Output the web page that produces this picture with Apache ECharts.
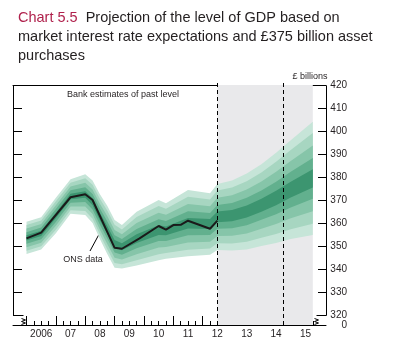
<!DOCTYPE html>
<html>
<head>
<meta charset="utf-8">
<script src="https://cdn.jsdelivr.net/npm/echarts@6/dist/echarts.min.js"></script>
<style>
html, body { margin: 0; padding: 0; background: #fff; }
#chart { width: 419px; height: 350px; }
</style>
</head>
<body>
<div id="chart"></div>
<script>
// ONS GDP level (£ billions), vertices of the black line
var onsX = [2006.0, 2006.5, 2007.5, 2008.0, 2008.25, 2009.0, 2009.25, 2009.85, 2010.5, 2010.75, 2011.0, 2011.25, 2011.5, 2012.25, 2012.5];
var onsY = [353.3, 355.8, 371.2, 372.5, 370.0, 349.2, 348.8, 353.3, 358.7, 357.1, 359.1, 359.2, 361.0, 357.5, 361.0];

// fan chart: outer edges of the shaded area (backcast + projection)
var fanX    = [2006.0, 2006.5, 2007.0, 2007.5, 2008.0, 2008.25, 2008.5, 2008.75, 2009.0, 2009.25, 2009.75, 2010.5, 2010.75, 2011.5, 2012.25, 2012.5, 2013.0, 2013.5, 2014.0, 2014.5, 2015.0, 2015.75];
var fanHigh = [360.5, 362.5, 371.0, 379.0, 381.2, 378.5, 372.5, 367.5, 361.3, 359.1, 364.9, 370.0, 368.6, 374.3, 372.9, 377.0, 378.5, 381.5, 385.5, 390.5, 396.0, 404.0];
var fanLow  = [346.5, 348.5, 355.5, 364.0, 363.5, 360.0, 353.0, 346.5, 340.5, 340.2, 341.5, 343.8, 344.5, 345.5, 346.2, 348.3, 348.0, 348.5, 350.0, 351.3, 353.0, 354.8];

// band edges as share of the outer range, and colours from outer to centre
var bandEdges = [0, 0.1, 0.21, 0.32, 0.42, 0.58, 0.68, 0.79, 0.9, 1];
var levelColors = ['#c6e5d8', '#a7d6c1', '#86c5a9', '#62b08e', '#3c9570'];

var yTicks = [320, 330, 340, 350, 360, 370, 380, 390, 400, 410, 420];
var yearTicks = [2006, 2007, 2008, 2009, 2010, 2011, 2012, 2013, 2014, 2015];
var yearLabels = ['2006', '07', '08', '09', '10', '11', '12', '13', '14', '15'];

var projStart = 2012.5, projEnd = 2015.75, twoYear = 2014.75;
var xMin = 2005.54, xMax = 2016.2, yMin = 315.65, yMax = 420;

var quarterTicks = [];
yearTicks.forEach(function (y) { quarterTicks.push(y + 0.25, y + 0.5, y + 0.75); });
var yearMids = yearTicks.map(function (y) { return y + 0.5; });

var ink = '#231f20';
var font = "'Liberation Sans', Arial, sans-serif";
var gridBox = { left: 13, right: 93, top: 85, bottom: 25 };

var chart = echarts.init(document.getElementById('chart'));

function fanPoints(api, lo, hi) {
    var pts = [];
    for (var i = 0; i < fanX.length; i++) {
        pts.push(api.coord([fanX[i], fanLow[i] + (fanHigh[i] - fanLow[i]) * lo]));
    }
    for (var j = fanX.length - 1; j >= 0; j--) {
        pts.push(api.coord([fanX[j], fanLow[j] + (fanHigh[j] - fanLow[j]) * hi]));
    }
    return pts;
}

var option = {
    animation: false,
    textStyle: { fontFamily: font },
    title: {
        left: 13, top: 3,
        text: '{a|Chart 5.5}  Projection of the level of GDP based on\nmarket interest rate expectations and £375 billion asset\npurchases',
        textStyle: {
            fontFamily: font, fontSize: 14.5, fontWeight: 'normal', color: ink, lineHeight: 19,
            rich: { a: { fontFamily: font, fontSize: 14.5, color: '#b0224d', lineHeight: 19 } }
        }
    },
    grid: [
        { left: gridBox.left, right: gridBox.right, top: gridBox.top, bottom: gridBox.bottom },
        { left: gridBox.left, right: gridBox.right, top: gridBox.top, bottom: gridBox.bottom }
    ],
    xAxis: [
        {
            gridIndex: 0, type: 'value', position: 'bottom', min: xMin, max: xMax,
            axisLine: { lineStyle: { color: '#000', width: 1 } },
            axisTick: { customValues: yearTicks, inside: true, length: 9, lineStyle: { color: '#000' } },
            axisLabel: {
                customValues: yearMids, margin: 4, fontSize: 10, color: ink, fontFamily: font,
                formatter: function (v) { return yearLabels[yearTicks.indexOf(Math.floor(v))]; }
            },
            splitLine: { show: false }
        },
        {
            gridIndex: 1, type: 'value', position: 'bottom', min: xMin, max: xMax,
            axisLine: { show: false },
            axisTick: { customValues: quarterTicks, inside: true, length: 4, lineStyle: { color: '#000' } },
            axisLabel: { show: false },
            splitLine: { show: false }
        },
        {
            gridIndex: 0, type: 'value', position: 'top', min: xMin, max: xMax,
            axisLine: { lineStyle: { color: '#000', width: 1 } },
            axisTick: { show: false }, axisLabel: { show: false }, splitLine: { show: false }
        }
    ],
    yAxis: [
        {
            gridIndex: 0, type: 'value', position: 'right', min: yMin, max: yMax,
            axisLine: { show: false },
            axisTick: { customValues: yTicks, inside: true, length: 8, lineStyle: { color: '#000' } },
            axisLabel: {
                customValues: [yMin].concat(yTicks), margin: 21, align: 'right',
                fontSize: 10, color: ink, fontFamily: font,
                formatter: function (v) { return v < 320 ? '0' : String(v); }
            },
            splitLine: { show: false }
        },
        {
            gridIndex: 0, type: 'value', position: 'left', min: yMin, max: yMax,
            axisLine: { show: false },
            axisTick: { customValues: yTicks, inside: true, length: 9, lineStyle: { color: '#000' } },
            axisLabel: { show: false },
            splitLine: { show: false }
        },
        { gridIndex: 1, type: 'value', min: yMin, max: yMax, show: false }
    ],
    series: [
        {
            name: 'fan', type: 'custom', xAxisIndex: 0, yAxisIndex: 0, z: 2, silent: true,
            data: levelColors.map(function (c, k) { return [2010, 360, k]; }),
            renderItem: function (params, api) {
                var k = params.dataIndex;
                return {
                    type: 'polygon',
                    shape: { points: fanPoints(api, bandEdges[k], bandEdges[bandEdges.length - 1 - k]) },
                    style: { fill: levelColors[k] }
                };
            }
        },
        {
            name: 'ONS data', type: 'line', xAxisIndex: 0, yAxisIndex: 0, z: 3,
            data: onsX.map(function (x, i) { return [x, onsY[i]]; }),
            symbol: 'none',
            lineStyle: { color: '#1a1a1a', width: 2 },
            markArea: {
                silent: true,
                itemStyle: { color: '#e9e9eb' },
                data: [[{ xAxis: projStart, yAxis: yMin }, { xAxis: projEnd, yAxis: yMax }]]
            },
            markLine: {
                silent: true, symbol: 'none',
                label: { show: false },
                lineStyle: { color: '#000', type: [4, 3], width: 1 },
                data: [{ xAxis: projStart }, { xAxis: twoYear }]
            }
        }
    ]
};

chart.setOption(option);

// axis frame pieces, breaks and annotations placed from data coordinates
function px(x, y) { return chart.convertToPixel({ gridIndex: 0 }, [x, y]); }
function snap(v) { return Math.round(v) + 0.5; }

var tl = px(xMin, yMax), bl = px(xMin, 320), tr = px(xMax, yMax), br = px(xMax, 320);
var xl = snap(tl[0]), xr = snap(tr[0]), yt = snap(tl[1]), yb = snap(bl[1]);
var xp = px(projStart, yMax)[0], xe = px(projEnd, yMax)[0], xt = px(twoYear, yMax)[0];
var yArrow = 95;

function zig(x0, y0) {
    return { type: 'polyline', silent: true, shape: { points: [[x0 - 2, y0 + 2], [x0 + 2, y0 + 3.5], [x0 - 2, y0 + 5], [x0 + 2, y0 + 6.5], [x0 - 2, y0 + 8]] },
        style: { stroke: '#000', lineWidth: 1, fill: null } };
}
function label(x, y, text, align) {
    return { type: 'text', silent: true, x: x, y: y,
        style: { text: text, fill: ink, font: '9px ' + font, align: align || 'center', verticalAlign: 'middle' } };
}
function arrowHead(tip, dir) {
    var len = Math.sqrt(dir[0] * dir[0] + dir[1] * dir[1]);
    var ux = dir[0] / len, uy = dir[1] / len;
    var bx = tip[0] - ux * 5, by = tip[1] - uy * 5;
    return { type: 'polygon', silent: true,
        shape: { points: [tip, [bx - uy * 2, by + ux * 2], [bx + uy * 2, by - ux * 2]] },
        style: { fill: '#000' } };
}
function stub(x) {
    return { type: 'line', silent: true, shape: { x1: snap(x), y1: yt - 2.5, x2: snap(x), y2: yt }, style: { stroke: '#000', lineWidth: 1 } };
}

var onsTip = px(2008.65, 358.6);

chart.setOption({
    graphic: [
        { type: 'polyline', silent: true, shape: { points: [[xl, yt], [xl, yb], [xl + 10, yb]] }, style: { stroke: '#000', lineWidth: 1, fill: null } },
        { type: 'polyline', silent: true, shape: { points: [[xr, yt], [xr, yb], [xr - 10, yb]] }, style: { stroke: '#000', lineWidth: 1, fill: null } },
        zig(xl + 10, yb + 1),
        zig(xr - 10, yb + 1),
        stub(xp), stub(xt),
        label(123, yArrow, 'Bank estimates of past level'),
        { type: 'line', silent: true, shape: { x1: xp + 2, y1: yArrow, x2: xp + 13, y2: yArrow }, style: { stroke: '#000', lineWidth: 1 } },
        arrowHead([xp, yArrow], [-1, 0]),
        label(xp + 34, yArrow, 'Projection'),
        { type: 'line', silent: true, shape: { x1: xp + 56, y1: yArrow, x2: xe - 4, y2: yArrow }, style: { stroke: '#000', lineWidth: 1 } },
        arrowHead([xe - 2, yArrow], [1, 0]),
        label(83, 260, 'ONS data'),
        { type: 'line', silent: true, shape: { x1: 90, y1: 251, x2: onsTip[0] - 2, y2: onsTip[1] + 2 }, style: { stroke: '#000', lineWidth: 1 } },
        arrowHead(onsTip, [onsTip[0] - 90, onsTip[1] - 251]),
        label(xr + 1, 77, '£ billions', 'right')
    ]
});
</script>
</body>
</html>
